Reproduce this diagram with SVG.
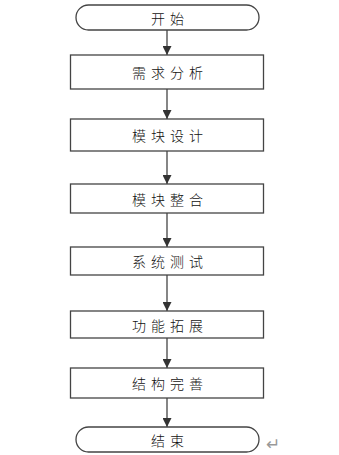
<svg xmlns="http://www.w3.org/2000/svg" width="339" height="455" viewBox="0 0 339 455">
<style>
.box{fill:#fff;stroke:#444;stroke-width:1.3}
.t{font-family:"Noto Sans CJK SC","Liberation Sans",sans-serif;font-size:14px;font-weight:300;fill:#111;text-anchor:middle;dominant-baseline:central;letter-spacing:5px}
.c{stroke:#444;stroke-width:1.3;fill:none}
</style>
<defs>
<marker id="ah" markerWidth="9" markerHeight="9" refX="9" refY="4.5" orient="auto" markerUnits="userSpaceOnUse">
<path d="M0,0 L9,4.5 L0,9 Z" fill="#333"/>
</marker>
</defs>
<rect width="339" height="455" fill="#fff"/>
<g id="connectors">
<line class="c" x1="167" y1="30" x2="167" y2="55" marker-end="url(#ah)"/>
<line class="c" x1="167" y1="89" x2="167" y2="119" marker-end="url(#ah)"/>
<line class="c" x1="167" y1="151" x2="167" y2="184" marker-end="url(#ah)"/>
<line class="c" x1="167" y1="213" x2="167" y2="247" marker-end="url(#ah)"/>
<line class="c" x1="167" y1="275" x2="167" y2="311" marker-end="url(#ah)"/>
<line class="c" x1="167" y1="338" x2="167" y2="368" marker-end="url(#ah)"/>
<line class="c" x1="167" y1="398" x2="167" y2="427" marker-end="url(#ah)"/>
</g>
<g id="start"><rect class="box" x="76" y="5" width="183" height="25" rx="12.5"/><text class="t" x="170" y="17.5">开始</text></g>
<g id="n1"><rect class="box" x="70.5" y="55" width="193" height="34"/><text class="t" x="170" y="72">需求分析</text></g>
<g id="n2"><rect class="box" x="70.5" y="119" width="193" height="32"/><text class="t" x="170" y="135">模块设计</text></g>
<g id="n3"><rect class="box" x="70.5" y="184" width="193" height="29"/><text class="t" x="170" y="198.5">模块整合</text></g>
<g id="n4"><rect class="box" x="70.5" y="247" width="193" height="28"/><text class="t" x="170" y="261">系统测试</text></g>
<g id="n5"><rect class="box" x="70.5" y="311" width="193" height="27"/><text class="t" x="170" y="324.5">功能拓展</text></g>
<g id="n6"><rect class="box" x="70.5" y="368" width="193" height="30"/><text class="t" x="170" y="383">结构完善</text></g>
<g id="end"><rect class="box" x="76" y="427" width="183" height="25" rx="12.5"/><text class="t" x="170" y="439.5">结束</text></g>
<text x="266" y="450" font-family="DejaVu Sans,sans-serif" font-size="17" fill="#999">↵</text>
</svg>
